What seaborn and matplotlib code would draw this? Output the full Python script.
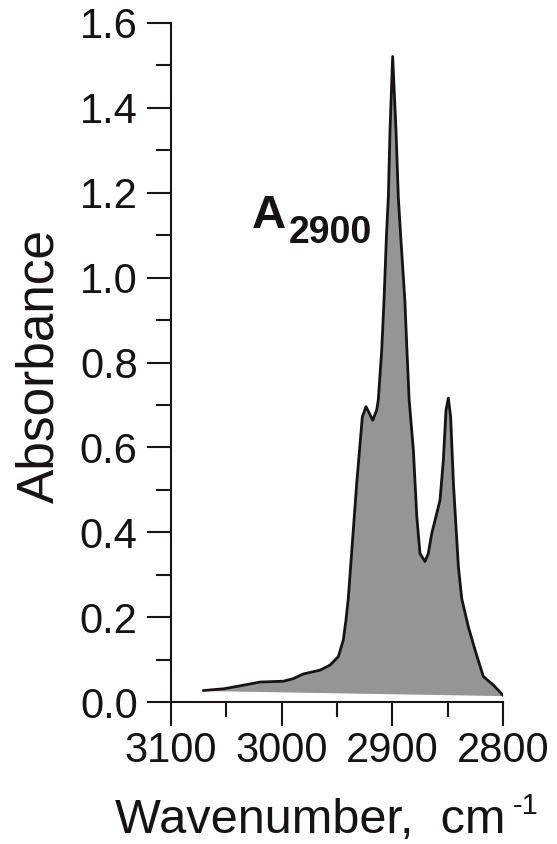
import numpy as np
import pandas as pd
import matplotlib
matplotlib.use("Agg")
import matplotlib.pyplot as plt
import seaborn as sns

# ---- data ----
wavenumber = [3070.8, 3052.7, 3037.7, 3019.6, 2998.5, 2989.5, 2980.5, 2965.4,
              2956.3, 2948.8, 2944.3, 2941.9, 2939.8, 2932.2, 2927.1, 2923.8,
              2917.7, 2914.1, 2912.7, 2909.6, 2907.5, 2905.3, 2903.6, 2902.1,
              2899.7, 2896.7, 2894.6, 2892.5, 2888.7, 2886.8, 2884.8, 2881.0,
              2877.9, 2875.0, 2870.5, 2867.5, 2864.4, 2859.9, 2856.9, 2853.9,
              2851.5, 2849.4, 2847.3, 2844.8, 2840.3, 2837.3, 2831.3, 2825.3,
              2817.8, 2808.7, 2799.7]
absorbance = [0.027, 0.031, 0.038, 0.047, 0.049, 0.055, 0.066, 0.075,
              0.087, 0.107, 0.146, 0.193, 0.244, 0.515, 0.672, 0.696,
              0.664, 0.688, 0.712, 0.829, 0.947, 1.100, 1.190, 1.348,
              1.521, 1.348, 1.190, 1.100, 0.947, 0.829, 0.712, 0.594,
              0.437, 0.350, 0.331, 0.350, 0.397, 0.444, 0.476, 0.570,
              0.688, 0.716, 0.672, 0.515, 0.318, 0.244, 0.177, 0.123,
              0.060, 0.040, 0.015]
x_ticks = [3100, 3000, 2900, 2800]
y_ticks = [0.0, 0.2, 0.4, 0.6, 0.8, 1.0, 1.2, 1.4, 1.6]
peak_label_main = "A"
peak_label_sub = "2900"

df = pd.DataFrame({"wavenumber": wavenumber, "absorbance": absorbance})

sns.set_style("ticks")
plt.rcParams["font.family"] = ["Liberation Sans", "DejaVu Sans"]

W, H = 557, 844
fig = plt.figure(figsize=(W / 100, H / 100), dpi=100)
ax = fig.add_axes([171 / W, 1 - 702 / H, 332 / W, 679 / H])

xs = df["wavenumber"].to_numpy()
ys = df["absorbance"].to_numpy()
# sloping baseline joining the two ends of the spectrum
base = np.interp(xs, [xs[-1], xs[0]], [ys[-1], ys[0]])
ax.fill_between(xs, ys, base, color="#959595", linewidth=0)
sns.lineplot(data=df, x="wavenumber", y="absorbance", ax=ax, sort=False,
             color="#161312", linewidth=2.0, solid_joinstyle="round",
             solid_capstyle="round")

ax.set_xlim(3100, 2800)
ax.set_ylim(0, 1.6)
ax.set_xticks(x_ticks)
ax.set_xticklabels([str(t) for t in x_ticks])
ax.set_yticks(y_ticks)
ax.set_yticklabels([f"{t:.1f}" for t in y_ticks])
ax.set_xticks([3050, 2950, 2850], minor=True)
ax.set_yticks([0.1, 0.3, 0.5, 0.7, 0.9, 1.1, 1.3, 1.5], minor=True)

sns.despine(ax=ax)
for s in ("left", "bottom"):
    ax.spines[s].set_linewidth(1.5)
    ax.spines[s].set_color("#161312")
ax.tick_params(axis="both", which="major", length=17, width=1.5,
               color="#161312", labelsize=30, labelcolor="#161312")
ax.tick_params(axis="y", which="major", pad=7)
ax.tick_params(axis="x", which="major", pad=4)
ax.tick_params(axis="both", which="minor", length=10.5, width=1.5,
               color="#161312")

ax.set_ylabel("Absorbance", fontsize=37, color="#161312", va="center")
ax.yaxis.set_label_coords((40 - 171) / 332, 0.495)
ax.set_xlabel("Wavenumber,  cm", fontsize=35, color="#161312", va="baseline")
ax.xaxis.set_label_coords((310 - 171) / 332, (702 - 833) / 679)
fig.text(513 / W, 1 - 814 / H, "-1", fontsize=21, color="#161312",
         ha="left", va="baseline")

ax.text((252 - 171) / 332, (702 - 228) / 679, peak_label_main,
        transform=ax.transAxes, fontsize=34, fontweight="bold",
        color="#161312", ha="left", va="baseline")
ax.text((289 - 171) / 332, (702 - 243) / 679, peak_label_sub,
        transform=ax.transAxes, fontsize=27, fontweight="bold",
        color="#161312", ha="left", va="baseline")

fig.savefig("out.png", dpi=100)
